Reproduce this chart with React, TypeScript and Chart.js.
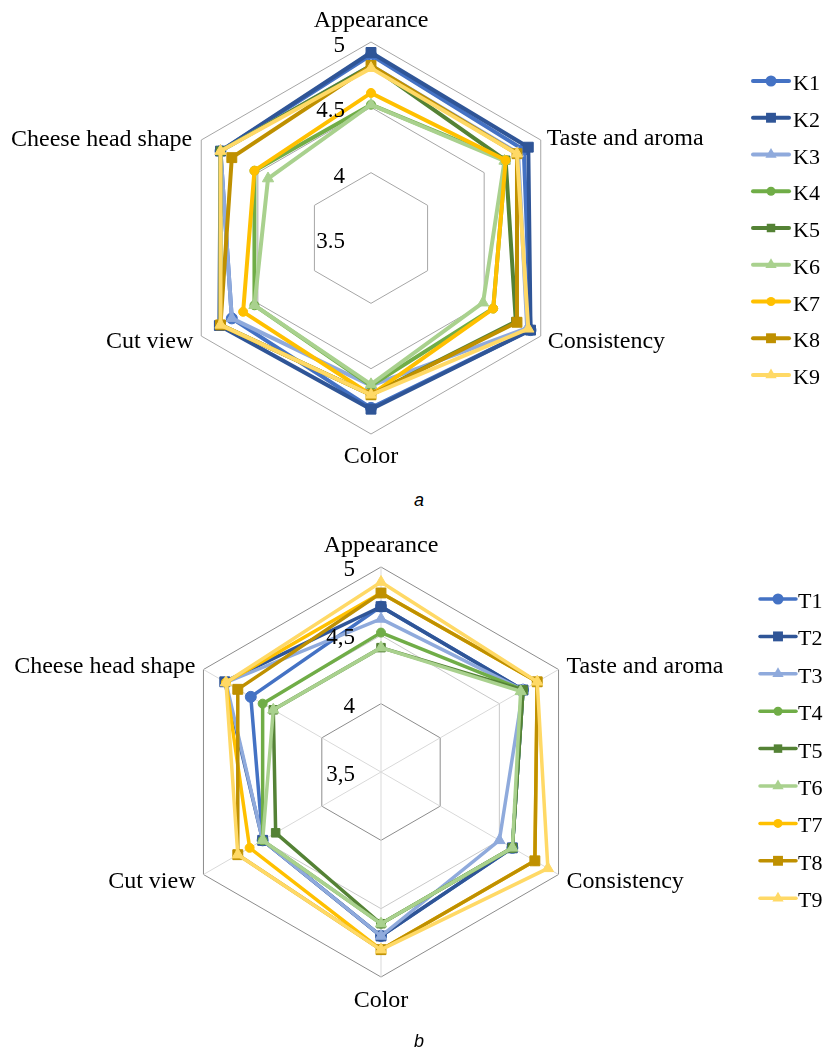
import React, { useEffect, useLayoutEffect, useRef } from 'react';
import { Chart, registerables } from 'chart.js';

Chart.register(...registerables);

// ---------- data ----------
const AXES = ['Appearance', 'Taste and aroma', 'Consistency', 'Color', 'Cut view', 'Cheese head shape'];

const K_NAMES = ['K1', 'K2', 'K3', 'K4', 'K5', 'K6', 'K7', 'K8', 'K9'];
const K1 = [4.90, 4.85, 4.91, 4.80, 4.73, 4.83];
const K2 = [4.92, 4.89, 4.91, 4.81, 4.84, 4.83];
const K3 = [4.82, 4.80, 4.88, 4.63, 4.73, 4.83];
const K4 = [4.52, 4.69, 4.58, 4.63, 4.53, 4.53];
const K5 = [4.82, 4.69, 4.78, 4.70, 4.83, 4.83];
const K6 = [4.52, 4.68, 4.49, 4.62, 4.53, 4.41];
const K7 = [4.61, 4.69, 4.58, 4.70, 4.63, 4.53];
const K8 = [4.82, 4.79, 4.79, 4.70, 4.83, 4.73];
const K9 = [4.80, 4.79, 4.89, 4.70, 4.83, 4.83];
const K_VALUES = [K1, K2, K3, K4, K5, K6, K7, K8, K9];

const T_NAMES = ['T1', 'T2', 'T3', 'T4', 'T5', 'T6', 'T7', 'T8', 'T9'];
const T1 = [4.71, 4.70, 4.61, 4.70, 4.50, 4.60];
const T2 = [4.71, 4.70, 4.61, 4.70, 4.50, 4.82];
const T3 = [4.62, 4.70, 4.50, 4.70, 4.50, 4.81];
const T4 = [4.52, 4.70, 4.61, 4.61, 4.50, 4.50];
const T5 = [4.41, 4.70, 4.61, 4.61, 4.39, 4.41];
const T6 = [4.41, 4.68, 4.61, 4.61, 4.50, 4.41];
const T7 = [4.81, 4.82, 4.80, 4.80, 4.61, 4.81];
const T8 = [4.81, 4.82, 4.80, 4.80, 4.71, 4.71];
const T9 = [4.89, 4.82, 4.91, 4.80, 4.71, 4.81];
const T_VALUES = [T1, T2, T3, T4, T5, T6, T7, T8, T9];

const SCALE_MIN = 3.5;
const SCALE_MAX = 5;
const SCALE_STEP = 0.5;

// ---------- styles ----------
const COLORS = ['#4472C4', '#2F5597', '#8FAADC', '#70AD47', '#548235', '#A9D18E', '#FFC000', '#BF9000', '#FFD966'];
const SHAPES = ['circle', 'rect', 'triangle', 'circle', 'rect', 'triangle', 'circle', 'rect', 'triangle'];
const RADII = [5.5, 7, 6.5, 4.5, 6, 6.5, 4.5, 7, 6.5];

const SERIF = '"Liberation Serif", "Times New Roman", serif';

type LabelOff = [number, number, CanvasTextAlign];

interface Cfg {
  names: string[];
  values: number[][];
  lineWidth: number;
  width: number;
  height: number;
  cx: number;
  cy: number;
  R: number;
  angleLines: boolean;
  gridColor: (v: number) => string;
  tickFmt: (v: number) => string;
  labelOffsets: LabelOff[];
  labelSize: number;
  tickSize: number;
  tickDy: number;
  legendX1: number;
  legendX2: number;
  legendTextX: number;
  legendY0: number;
  legendDy: number;
  legendSize: number;
}

function drawMarker(ctx: CanvasRenderingContext2D, shape: string, x: number, y: number, r: number, color: string) {
  ctx.fillStyle = color;
  ctx.beginPath();
  if (shape === 'circle') {
    ctx.arc(x, y, r, 0, Math.PI * 2);
  } else if (shape === 'rect') {
    const s = Math.SQRT1_2 * r;
    ctx.rect(x - s, y - s, 2 * s, 2 * s);
  } else {
    let a = 0;
    ctx.moveTo(x + Math.sin(a) * r, y - Math.cos(a) * r);
    a += (2 * Math.PI) / 3;
    ctx.lineTo(x + Math.sin(a) * r, y - Math.cos(a) * r);
    a += (2 * Math.PI) / 3;
    ctx.lineTo(x + Math.sin(a) * r, y - Math.cos(a) * r);
    ctx.closePath();
  }
  ctx.fill();
}

function makeDecor(cfg: Cfg) {
  return {
    id: 'decor',
    afterDraw(chart: any) {
      const ctx: CanvasRenderingContext2D = chart.ctx;
      const s = chart.scales.r;
      ctx.save();
      ctx.fillStyle = '#000';
      ctx.textBaseline = 'alphabetic';
      // axis (point) labels
      ctx.font = `${cfg.labelSize}px ${SERIF}`;
      AXES.forEach((lab, i) => {
        const p = s.getPointPosition(i, s.drawingArea);
        const o = cfg.labelOffsets[i];
        ctx.textAlign = o[2];
        ctx.fillText(lab, p.x + o[0], p.y + o[1]);
      });
      // tick labels
      ctx.font = `${cfg.tickSize}px ${SERIF}`;
      ctx.textAlign = 'right';
      s.ticks.forEach((t: any) => {
        const d = s.getDistanceFromCenterForValue(t.value);
        ctx.fillText(t.label, s.xCenter - 26, s.yCenter - d + cfg.tickDy);
      });
      // legend
      ctx.font = `${cfg.legendSize}px ${SERIF}`;
      ctx.textAlign = 'left';
      chart.data.datasets.forEach((ds: any, i: number) => {
        const y = cfg.legendY0 + cfg.legendDy * i;
        ctx.strokeStyle = ds.borderColor;
        ctx.lineWidth = cfg.lineWidth;
        ctx.lineCap = 'round';
        ctx.beginPath();
        ctx.moveTo(cfg.legendX1, y);
        ctx.lineTo(cfg.legendX2, y);
        ctx.stroke();
        drawMarker(ctx, SHAPES[i], (cfg.legendX1 + cfg.legendX2) / 2, y, RADII[i], ds.borderColor);
        ctx.fillStyle = '#000';
        ctx.fillText(ds.label, cfg.legendTextX, y + 9);
      });
      ctx.restore();
    },
  };
}

function RadarChart({ cfg }: { cfg: Cfg }) {
  const ref = useRef<HTMLCanvasElement>(null);
  useEffect(() => {
    const canvas = ref.current!;
    const side = cfg.R * 2;
    const left = cfg.cx - cfg.R;
    const top = cfg.cy - cfg.R;
    const chart = new Chart(canvas, {
      type: 'radar',
      data: {
        labels: AXES,
        datasets: cfg.names.map((name, i) => ({
          label: name,
          data: cfg.values[i],
          borderColor: COLORS[i],
          backgroundColor: COLORS[i],
          borderWidth: cfg.lineWidth,
          fill: false,
          tension: 0,
          pointStyle: SHAPES[i] as any,
          pointRadius: RADII[i],
          pointHoverRadius: RADII[i],
          pointBackgroundColor: COLORS[i],
          pointBorderColor: COLORS[i],
          pointBorderWidth: 1,
          order: cfg.names.length - i,
        })),
      },
      options: {
        responsive: false,
        animation: false,
        devicePixelRatio: 1,
        layout: {
          padding: {
            left,
            top,
            right: cfg.width - left - side,
            bottom: cfg.height - top - side,
          },
        },
        plugins: {
          legend: { display: false },
          tooltip: { enabled: false },
        },
        scales: {
          r: {
            min: SCALE_MIN,
            max: SCALE_MAX,
            beginAtZero: false,
            ticks: {
              stepSize: SCALE_STEP,
              display: false,
              callback: (v: any) => cfg.tickFmt(Number(v)),
            },
            pointLabels: { display: false },
            angleLines: { display: cfg.angleLines, color: '#D9D9D9', lineWidth: 1 },
            grid: {
              color: (c: any) => cfg.gridColor(c.tick ? c.tick.value : 0),
              lineWidth: 1,
            },
          },
        },
      },
      plugins: [makeDecor(cfg)],
    });
    return () => chart.destroy();
  }, [cfg]);
  return <canvas ref={ref} width={cfg.width} height={cfg.height} style={{ display: 'block', width: cfg.width, height: cfg.height }} />;
}

// all coordinates below are page coordinates (body margin removed)
const CFG_A: Cfg = {
  names: K_NAMES,
  values: K_VALUES,
  lineWidth: 4,
  width: 824,
  height: 480,
  cx: 371,
  cy: 238,
  R: 196,
  angleLines: false,
  gridColor: () => '#A6A6A6',
  tickFmt: (v) => String(v),
  labelOffsets: [
    [0, -15, 'center'],
    [6, 5, 'left'],
    [7, 12, 'left'],
    [0, 29, 'center'],
    [-8, 12, 'right'],
    [-9, 6, 'right'],
  ],
  labelSize: 24,
  tickSize: 23,
  tickDy: 10,
  legendX1: 753,
  legendX2: 789,
  legendTextX: 793,
  legendY0: 81,
  legendDy: 36.75,
  legendSize: 22,
};

const CFG_B: Cfg = {
  names: T_NAMES,
  values: T_VALUES,
  lineWidth: 3.5,
  width: 824,
  height: 520,
  cx: 381,
  cy: 252,
  R: 205,
  angleLines: true,
  gridColor: (v) => (Math.abs(v - 4.5) < 1e-6 ? '#C8C8C8' : '#8C8C8C'),
  tickFmt: (v) => String(v).replace('.', ','),
  labelOffsets: [
    [0, -15, 'center'],
    [8, 3, 'left'],
    [8, 13, 'left'],
    [0, 30, 'center'],
    [-8, 13, 'right'],
    [-8, 3, 'right'],
  ],
  labelSize: 24,
  tickSize: 23,
  tickDy: 9,
  legendX1: 760,
  legendX2: 796,
  legendTextX: 798,
  legendY0: 79,
  legendDy: 37.4,
  legendSize: 22,
};

const captionStyle: React.CSSProperties = {
  position: 'absolute',
  left: 399,
  width: 40,
  textAlign: 'center',
  fontFamily: '"Liberation Sans", Arial, sans-serif',
  fontStyle: 'italic',
  fontSize: 18,
  lineHeight: '18px',
};

export default function App() {
  useLayoutEffect(() => {
    document.body.style.margin = '0';
  }, []);
  return (
    <div style={{ position: 'relative', width: 824, height: 1052, overflow: 'hidden' }}>
      <div style={{ position: 'absolute', left: 0, top: 0 }}>
        <RadarChart cfg={CFG_A} />
      </div>
      <div style={{ ...captionStyle, top: 491 }}>a</div>
      <div style={{ position: 'absolute', left: 0, top: 520 }}>
        <RadarChart cfg={CFG_B} />
      </div>
      <div style={{ ...captionStyle, top: 1032 }}>b</div>
    </div>
  );
}
